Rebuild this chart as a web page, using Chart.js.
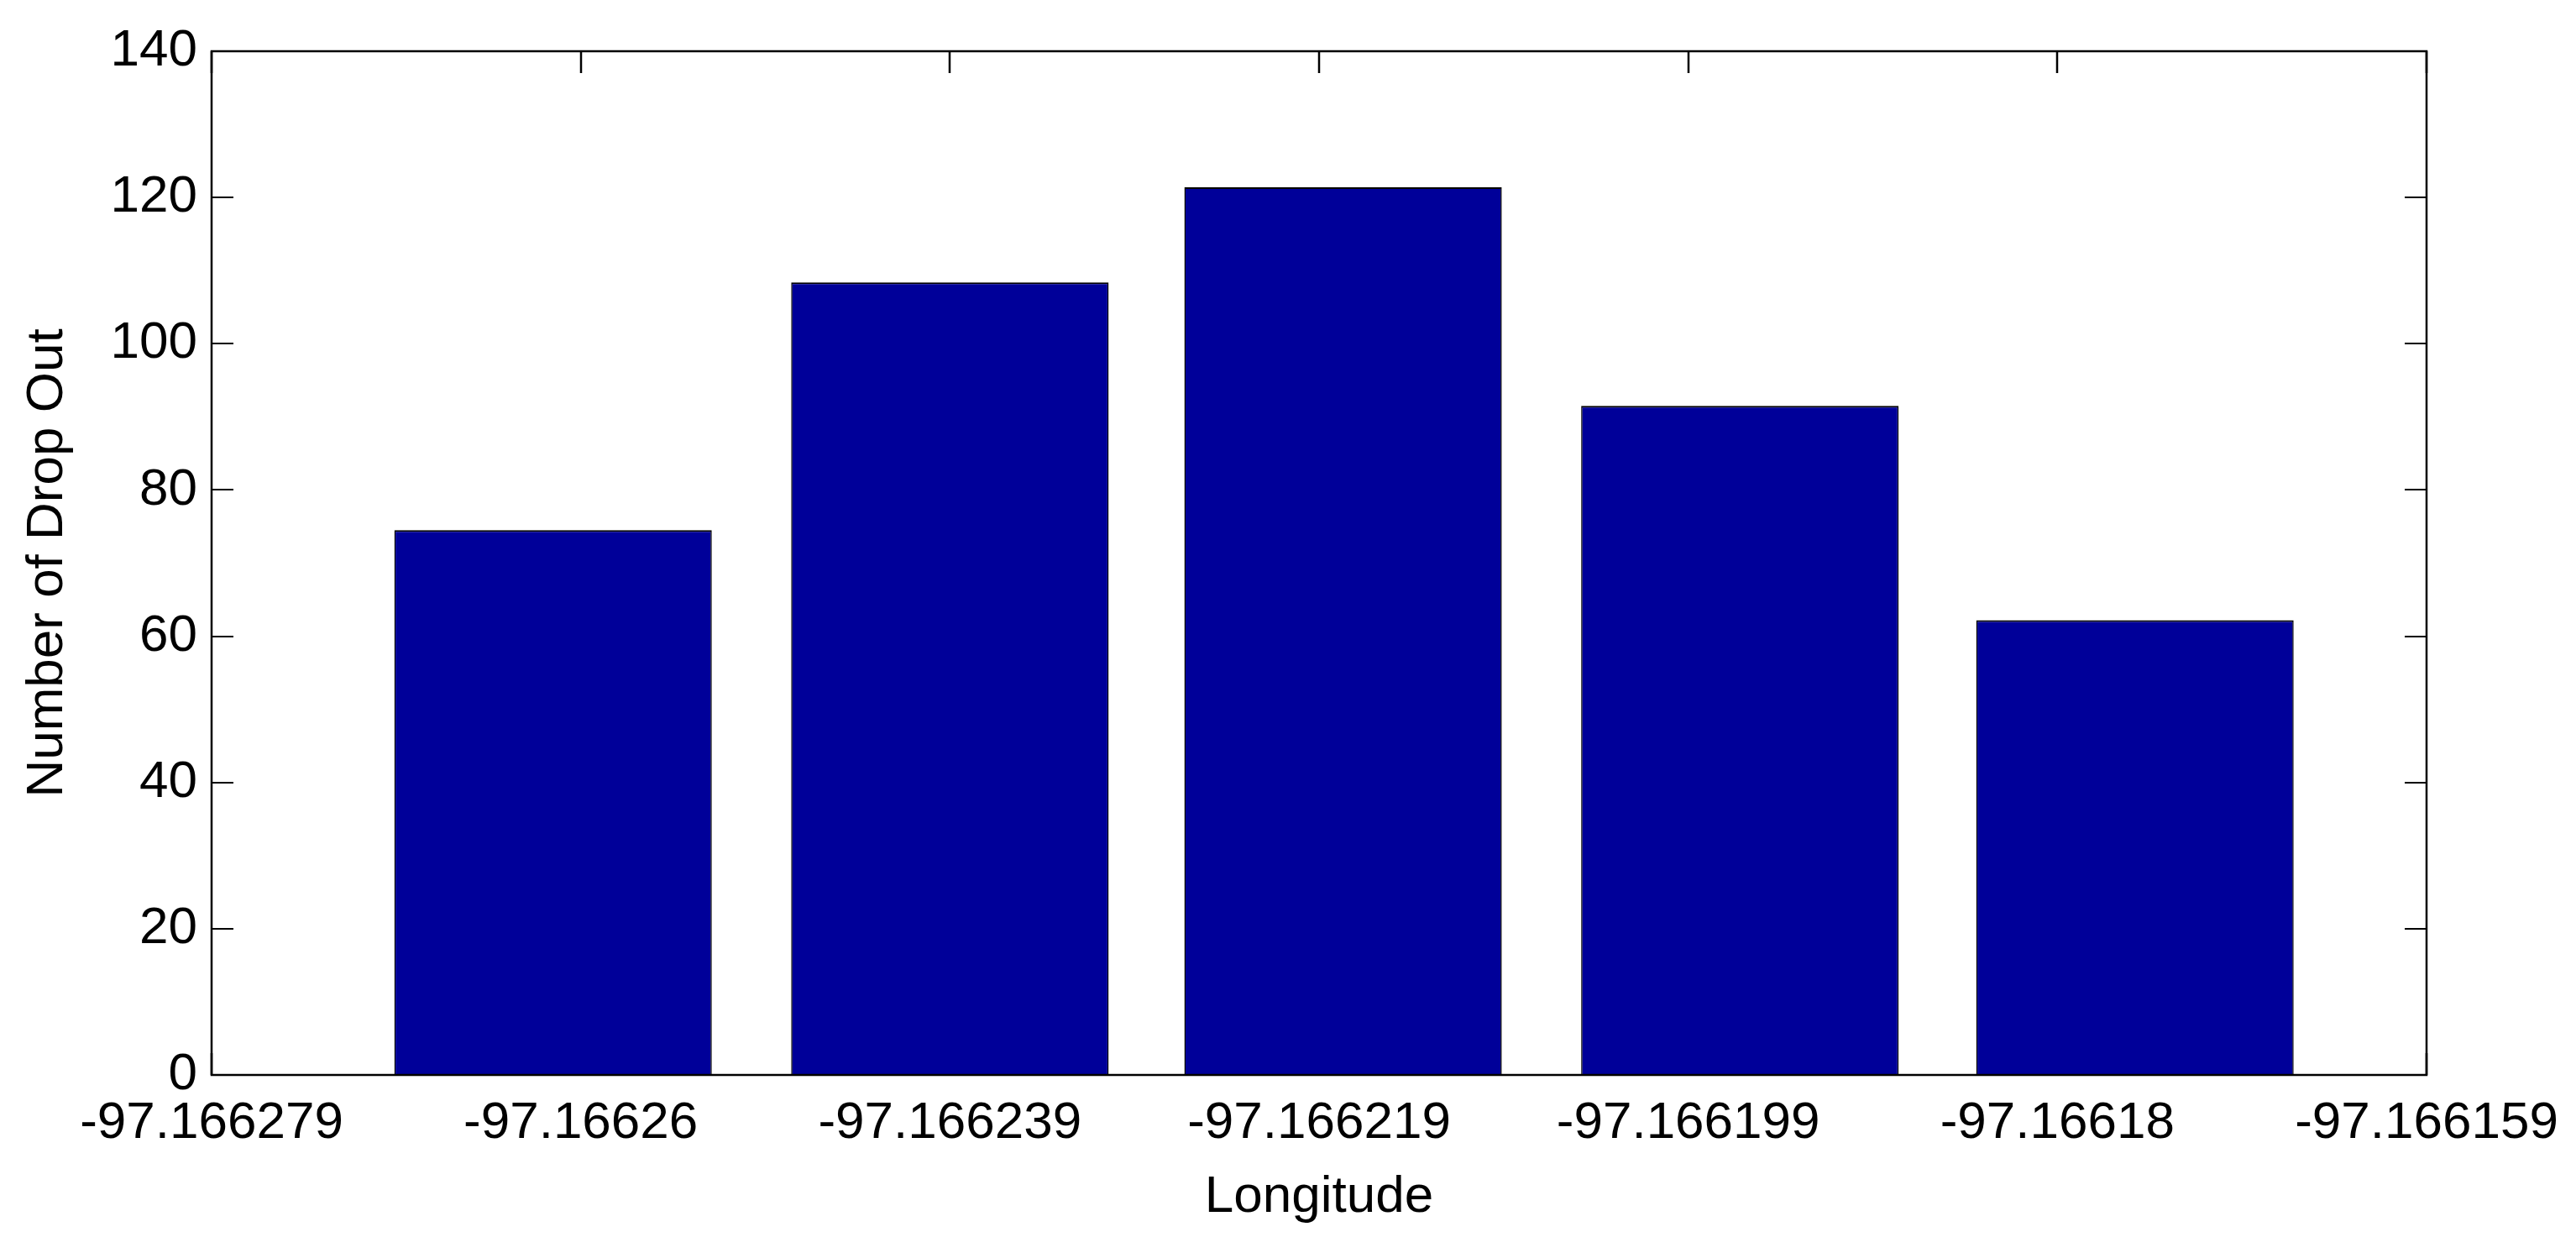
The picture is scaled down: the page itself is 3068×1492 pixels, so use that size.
<!DOCTYPE html>
<html>
<head>
<meta charset="utf-8">
<style>
  html, body { margin: 0; padding: 0; background: #fff; }
  canvas { display: block; }
</style>
<script src="https://cdn.jsdelivr.net/npm/chart.js@4.4.1/dist/chart.umd.min.js"></script>
</head>
<body>
<canvas id="chart" width="3068" height="1492"></canvas>
<script>
// bar centres (longitude) and counts
const longitudes = [-97.1662605, -97.1662390, -97.1662177, -97.1661962, -97.1661748];
const dropOuts = [74.5, 108.4, 121.4, 91.5, 62.2];

const xTickValues = [-97.166279, -97.166259, -97.166239, -97.166219, -97.166199, -97.166179, -97.166159];
const xTickLabels = ['-97.166279', '-97.16626', '-97.166239', '-97.166219', '-97.166199', '-97.16618', '-97.166159'];
const yTickValues = [0, 20, 40, 60, 80, 100, 120, 140];

Chart.defaults.font.family = '"Liberation Sans", Arial, sans-serif';
Chart.defaults.font.size = 62;
Chart.defaults.color = '#000';

// MATLAB-like axes box with inward tick marks on all four sides
const TICK_LEN = 26;
const matlabBox = {
  id: 'matlabBox',
  beforeDatasetsDraw(chart) {
    const { ctx, chartArea: a, scales: { x, y } } = chart;
    ctx.save();
    ctx.strokeStyle = '#000';
    ctx.lineWidth = 2.5;
    ctx.beginPath();
    x.ticks.forEach(t => {
      const px = Math.round(x.getPixelForValue(t.value));
      ctx.moveTo(px, a.bottom);
      ctx.lineTo(px, a.bottom - TICK_LEN);
      ctx.moveTo(px, a.top);
      ctx.lineTo(px, a.top + TICK_LEN);
    });
    ctx.stroke();
    ctx.lineWidth = 2;
    ctx.beginPath();
    y.ticks.forEach(t => {
      const py = Math.round(y.getPixelForValue(t.value));
      ctx.moveTo(a.left, py);
      ctx.lineTo(a.left + TICK_LEN, py);
      ctx.moveTo(a.right, py);
      ctx.lineTo(a.right - TICK_LEN, py);
    });
    ctx.stroke();
    ctx.restore();
  },
  afterDatasetsDraw(chart) {
    const { ctx, chartArea: a } = chart;
    ctx.save();
    ctx.strokeStyle = '#000';
    ctx.lineWidth = 2.5;
    ctx.strokeRect(a.left, a.top, a.right - a.left, a.bottom - a.top);
    ctx.restore();
  }
};

new Chart(document.getElementById('chart'), {
  type: 'bar',
  data: {
    datasets: [{
      data: longitudes.map((lon, i) => ({ x: lon, y: dropOuts[i] })),
      backgroundColor: '#000099',
      borderColor: '#000',
      borderWidth: { top: 2, left: 1.5, right: 1.5, bottom: 0 },
      borderSkipped: 'start',
      categoryPercentage: 1,
      barPercentage: 0.86,
    }]
  },
  options: {
    responsive: false,
    animation: false,
    devicePixelRatio: 1,
    layout: { padding: { top: 61, right: 178, left: 0, bottom: 0 } },
    plugins: { legend: { display: false }, tooltip: { enabled: false } },
    scales: {
      x: {
        type: 'linear',
        offset: false,
        min: xTickValues[0],
        max: xTickValues[xTickValues.length - 1],
        grid: { display: false, drawTicks: false, offset: false },
        border: { display: false },
        afterBuildTicks: (scale) => { scale.ticks = xTickValues.map(v => ({ value: v })); },
        afterFit: (scale) => { scale.height = 212; },
        ticks: {
          autoSkip: false,
          maxRotation: 0,
          padding: 21,
          callback: (v, i) => xTickLabels[i],
        },
        title: { display: true, text: 'Longitude', padding: { top: 0, bottom: 29 } },
      },
      y: {
        min: 0,
        max: 140,
        grid: { display: false, drawTicks: false },
        border: { display: false },
        afterBuildTicks: (scale) => { scale.ticks = yTickValues.map(v => ({ value: v })); },
        afterFit: (scale) => { scale.width = 252; },
        ticks: { padding: 17, callback: (v) => String(v) },
        title: { display: true, text: 'Number of Drop Out', padding: { top: 20, bottom: 0 } },
      }
    }
  },
  plugins: [matlabBox]
});
</script>
</body>
</html>
